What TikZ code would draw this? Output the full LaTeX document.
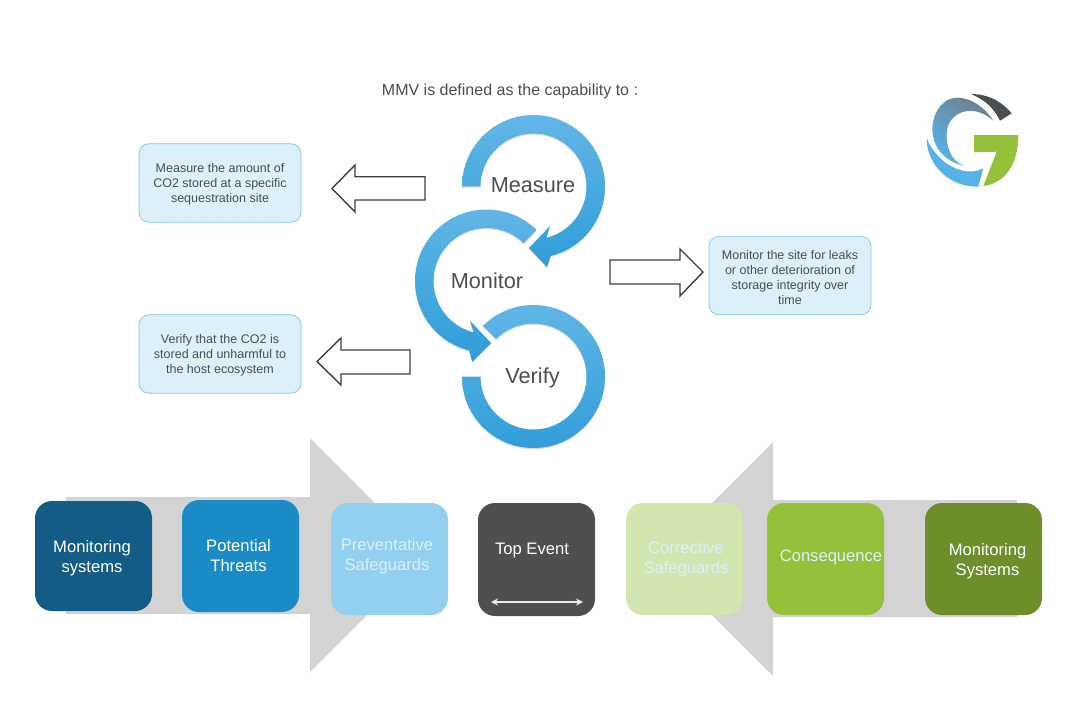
\documentclass[tikz,border=0pt]{standalone}
\usepackage{fontspec}
\setmainfont{Liberation Sans}
\usepackage{xcolor}
\usetikzlibrary{shadows, arrows.meta}
\definecolor{ringtop}{HTML}{62B7E6}
\definecolor{ringmid}{HTML}{3FAEE8}
\definecolor{ringlow}{HTML}{2F9CD8}
\definecolor{infofill}{HTML}{DDF0FA}
\definecolor{infoline}{HTML}{7CC4E8}
\definecolor{inktext}{HTML}{4A4F52}
\definecolor{bandgray}{HTML}{D3D3D3}
\definecolor{navyblue}{HTML}{135C85}
\definecolor{midblue}{HTML}{1B8BC6}
\definecolor{paleblue}{HTML}{93CFEE}
\definecolor{slategray}{HTML}{4D4F50}
\definecolor{palegreen}{HTML}{D4E6B0}
\definecolor{leafgreen}{HTML}{94C03A}
\definecolor{olivegreen}{HTML}{6E8E2B}
\definecolor{logosteel}{HTML}{6F7F8C}
\definecolor{logolight}{HTML}{57B2E8}
\newcommand{\toppad}{\rule{0pt}{12.5pt}}
\tikzset{
  ringarrow/.style={top color=ringtop, middle color=ringmid, bottom color=ringlow,
    drop shadow={shadow xshift=0pt, shadow yshift=-1.2pt, opacity=.15, fill=black}},
  hollowarrow/.style={draw=inktext!80!black, line width=1.4pt, fill=white, line join=miter},
  infobox/.style={draw=infoline, fill=infofill, rounded corners=10pt, line width=.7pt,
    minimum width=162pt, minimum height=78.5pt, align=center, text=inktext,
    font=\fontsize{12.5}{15}\selectfont, inner sep=0pt},
  ringlabel/.style={text=inktext, font=\fontsize{21.7}{26}\selectfont},
  stepbox/.style={rounded corners=17pt, minimum width=117pt, minimum height=112pt, inner sep=0pt},
  steptext/.style={align=center, text=white, font=\fontsize{16.6}{20}\selectfont, inner sep=0pt}
}
\begin{document}
\begin{tikzpicture}[x=1pt, y=1pt, >=stealth]
      \useasboundingbox (0,0) rectangle (1084,-720);
      \fill[white] (0,0) rectangle (1084,-720);

      \node[text=inktext, font=\fontsize{16}{19}\selectfont] (title) at (510,-91.5) {MMV is defined as the capability to :};

      \path[ringarrow] (533.5,-376.5) ++(135:71.5) arc (135:-180:71.5) -- ++(18.5,0) arc (-180:135:53) -- cycle;
      \path[ringarrow] (486.5,-281) ++(45.6:71.5) arc (45.6:256:71.5) -- (472.3,-361.7) -- (491,-343) -- (470,-320.7) -- (473.7,-332.4) arc (256:45.6:53) -- cycle;
      \path[ringarrow] (462,-186.5) arc (180:-76:71.5) -- (547,-267) -- (529,-248) -- (550,-226) -- (546.3,-237.9) arc (-76:180:53) -- cycle;

      \node[ringlabel] (measure) at (533,-185) {Measure};
      \node[ringlabel] (monitor) at (487,-281) {Monitor};
      \node[ringlabel] (verify) at (532.5,-378) {Verify};

      \draw[hollowarrow] (425,-176.7) -- (355,-176.7) -- (355,-165) -- (332,-188.5) -- (355,-212) -- (355,-200) -- (425,-200) -- cycle;
      \draw[hollowarrow] (610,-260) -- (680,-260) -- (680,-249) -- (703,-272) -- (680,-296) -- (680,-284) -- (610,-284) -- cycle;
      \draw[hollowarrow] (410,-350) -- (341,-350) -- (341,-338) -- (317,-361.5) -- (341,-385) -- (341,-374) -- (410,-374) -- cycle;

      \node[infobox] (measurebox) at (220,-183) {\toppad Measure the amount of\\CO2 stored at a specific\\sequestration site};
      \node[infobox] (monitorbox) at (790,-275.5) {\toppad Monitor the site for leaks\\or other deterioration of\\storage integrity over\\time};
      \node[infobox] (verifybox) at (220,-354) {\toppad Verify that the CO2 is\\stored and unharmful to\\the host ecosystem};

      \fill[bandgray] (66,-497) -- (310,-497) -- (310,-438) -- (427,-555) -- (310,-672) -- (310,-614) -- (66,-614) -- cycle;
      \fill[bandgray] (1017,-500) -- (773,-500) -- (773,-442) -- (656,-559) -- (773,-676) -- (773,-617) -- (1017,-617) -- cycle;

      \node[stepbox, fill=navyblue, minimum height=110pt] (monitorleft) at (93.5,-556) {};
      \node[stepbox, fill=midblue] (threats) at (240.5,-556) {};
      \node[stepbox, fill=paleblue] (preventative) at (389.5,-559) {};
      \node[stepbox, fill=slategray, minimum height=113pt] (topevent) at (536.5,-559.5) {};
      \node[stepbox, fill=palegreen] (corrective) at (684.5,-559) {};
      \node[stepbox, fill=leafgreen] (consequence) at (825.5,-559) {};
      \node[stepbox, fill=olivegreen] (monitorright) at (983.5,-559) {};

      \node[steptext] (monitorlefttext) at (92,-558.5) {Monitoring\\systems};
      \node[steptext] (threatstext) at (238.5,-556) {Potential\\Threats};
      \node[steptext, text=infofill] (preventativetext) at (387,-556.5) {Preventative\\Safeguards};
      \node[steptext] (topeventtext) at (532,-551) {Top Event};
      \node[steptext, text=infofill] (correctivetext) at (686,-559.5) {Corrective\\Safeguards};
      \node[steptext, text=infofill] (consequencetext) at (831,-557) {Consequence};
      \node[steptext] (monitorrighttext) at (987.5,-561.5) {Monitoring\\Systems};

      \coordinate (spanleft) at (491,-602);
      \coordinate (spanright) at (583,-602);
      \draw[{Stealth[length=7pt,width=7pt]}-{Stealth[length=7pt,width=7pt]}, white!92!black, line width=1.2pt] (spanleft) -- (spanright);

      \shade[top color=logosteel, bottom color=logolight, shading angle=-40] (993.3,-120.7) .. controls (980,-100) and (960,-95) .. (950,-99)
        .. controls (935,-105) and (930,-125) .. (933.3,-137) .. controls (936,-152) and (948,-162) .. (963.3,-165.7)
        .. controls (950,-160) and (946,-145) .. (946.7,-133.3) .. controls (947,-120) and (958,-110) .. (971.7,-111)
        .. controls (980,-111) and (988,-116) .. (993.3,-120.7) -- cycle;
      \fill[inktext] (970.7,-94) .. controls (990,-94) and (1003,-103) .. (1011.7,-113.3) -- (1000,-120.7) .. controls (994,-108) and (984,-99) .. (970.7,-94) -- cycle;
      \fill[logolight] (926.7,-138.3) .. controls (926,-160) and (945,-187) .. (978.3,-186.7) -- (983.3,-168.3)
        .. controls (965,-178) and (938,-165) .. (926.7,-138.3) -- cycle;
      \fill[leafgreen] (974,-135) -- (1018.3,-135) .. controls (1018.5,-160) and (1008,-183) .. (983.3,-186)
        -- (996.7,-151.7) -- (974,-152.3) -- cycle;
    \end{tikzpicture}
\end{document}
